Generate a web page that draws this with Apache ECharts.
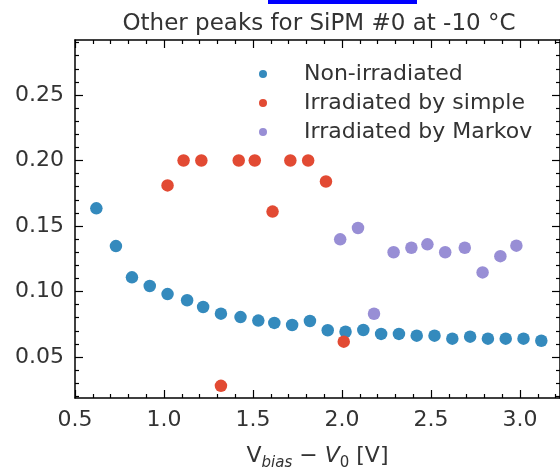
<!DOCTYPE html>
<html>
<head>
<meta charset="utf-8">
<script src="https://cdn.jsdelivr.net/npm/echarts@6/dist/echarts.min.js"></script>
<style>html,body{margin:0;padding:0;background:#fff}#c{width:560px;height:467px}</style>
</head>
<body>
<div id="c"></div>
<script>
const titleText = 'Other peaks for SiPM #0 at -10 °C';
const seriesNames = ['Non-irradiated', 'Irradiated by simple', 'Irradiated by Markov'];
const colors = ['#348ABD', '#E24A33', '#988ED5'];

const xNon = [0.62,0.73,0.82,0.92,1.02,1.13,1.22,1.32,1.43,1.53,1.62,1.72,1.82,1.92,2.02,2.12,2.22,2.32,2.42,2.52,2.62,2.72,2.82,2.92,3.02,3.12];
const yNon = [0.1635,0.1347,0.1108,0.1042,0.098,0.0933,0.0882,0.0831,0.0805,0.0778,0.076,0.0744,0.0775,0.0704,0.0693,0.0706,0.0676,0.0676,0.0663,0.0663,0.064,0.0655,0.064,0.064,0.064,0.0624];

const xSimple = [1.02,1.11,1.21,1.32,1.42,1.51,1.61,1.71,1.81,1.91,2.01];
const ySimple = [0.181,0.200,0.200,0.028,0.200,0.200,0.161,0.200,0.200,0.184,0.0617];

const xMarkov = [1.99,2.09,2.18,2.29,2.39,2.48,2.58,2.69,2.79,2.89,2.98];
const yMarkov = [0.1398,0.1485,0.083,0.130,0.1334,0.136,0.130,0.1334,0.1146,0.127,0.135];

const xTicks = [0.5,1.0,1.5,2.0,2.5,3.0];
const yTicks = [0.05,0.10,0.15,0.20,0.25];
const xMin = 0.5, xMax = 3.225;
const yMin = 0.0187, yMax = 0.292;

const xMinor = [];
for (let i = 6; i <= 32; i++) { if (i % 5 !== 0) xMinor.push(i / 10); }
const yMinor = [];
for (let i = 2; i <= 29; i++) { if (i % 5 !== 0) yMinor.push(i / 100); }

const pairs = (xs, ys) => xs.map((x, i) => [x, ys[i]]);

const lineStyle = {color: '#000', width: 1.5};
const font = 'DejaVu Sans';

function xAx(pos, ticks, len, major, showLine) {
  return {
    type: 'value', position: pos, min: xMin, max: xMax,
    axisLine: {show: showLine, lineStyle: lineStyle},
    axisTick: {show: true, inside: true, length: len, customValues: ticks, lineStyle: {color: '#000', width: 1.2}},
    axisLabel: major ? {show: true, customValues: ticks, formatter: v => v.toFixed(1), fontFamily: font, fontSize: 22, color: '#333', margin: 11} : {show: false},
    splitLine: {show: false}
  };
}
function yAx(pos, ticks, len, major, showLine) {
  return {
    type: 'value', position: pos, min: yMin, max: yMax,
    axisLine: {show: showLine, lineStyle: lineStyle},
    axisTick: {show: true, inside: true, length: len, customValues: ticks, lineStyle: {color: '#000', width: 1.2}},
    axisLabel: major ? {show: true, customValues: ticks, formatter: v => v.toFixed(2), fontFamily: font, fontSize: 22, color: '#333', margin: 11} : {show: false},
    splitLine: {show: false}
  };
}

const xAxes = [
  xAx('bottom', xTicks, 8, true, true),
  xAx('bottom', xMinor, 4, false, false),
  xAx('top', xTicks, 8, false, true),
  xAx('top', xMinor, 4, false, false)
];
xAxes[0].name = '{r|V}{sub|bias}{r| − }{it|V}{sub0|0}{r| [V]}';
xAxes[0].nameLocation = 'middle';
xAxes[0].nameGap = 41;
xAxes[0].nameTextStyle = {
  fontFamily: font, fontSize: 22, color: '#333',
  rich: {
    r: {fontFamily: font, fontSize: 22, color: '#333', verticalAlign: 'bottom', lineHeight: 28},
    it: {fontFamily: font, fontSize: 22, fontStyle: 'italic', color: '#333', verticalAlign: 'bottom', lineHeight: 28},
    sub: {fontFamily: font, fontSize: 15, fontStyle: 'italic', color: '#333', verticalAlign: 'bottom', lineHeight: 22, padding: [0,0,-4,0]},
    sub0: {fontFamily: font, fontSize: 15, color: '#333', verticalAlign: 'bottom', lineHeight: 22, padding: [0,0,-4,0]}
  }
};

const yAxes = [
  yAx('left', yTicks, 8, true, true),
  yAx('left', yMinor, 4, false, false),
  yAx('right', yTicks, 8, false, true),
  yAx('right', yMinor, 4, false, false)
];

const chart = echarts.init(document.getElementById('c'), null, {renderer: 'canvas'});
chart.setOption({
  animation: false,
  backgroundColor: '#fff',
  color: colors,
  title: {
    text: titleText, left: 314, top: 8, textAlign: 'center',
    textStyle: {fontFamily: font, fontSize: 23, fontWeight: 'normal', color: '#333'}
  },
  graphic: [{type: 'rect', shape: {x: 268, y: 0, width: 149, height: 4}, style: {fill: '#0000ff'}}],
  legend: {
    orient: 'vertical', left: 254, top: 57, itemGap: 5,
    itemWidth: 8, itemHeight: 8, icon: 'circle',
    textStyle: {fontFamily: font, fontSize: 22, color: '#333', lineHeight: 24, padding: [0, 0, 0, 32]},
    data: seriesNames
  },
  grid: {left: 75, right: 0, top: 40, bottom: 69, containLabel: false, outerBoundsMode: 'none'},
  xAxis: xAxes,
  yAxis: yAxes,
  series: [
    {name: seriesNames[0], type: 'scatter', symbolSize: 12.5, data: pairs(xNon, yNon), itemStyle: {color: colors[0], opacity: 1}},
    {name: seriesNames[1], type: 'scatter', symbolSize: 12.5, data: pairs(xSimple, ySimple), itemStyle: {color: colors[1], opacity: 1}},
    {name: seriesNames[2], type: 'scatter', symbolSize: 12.5, data: pairs(xMarkov, yMarkov), itemStyle: {color: colors[2], opacity: 1}}
  ]
});
</script>
</body>
</html>
